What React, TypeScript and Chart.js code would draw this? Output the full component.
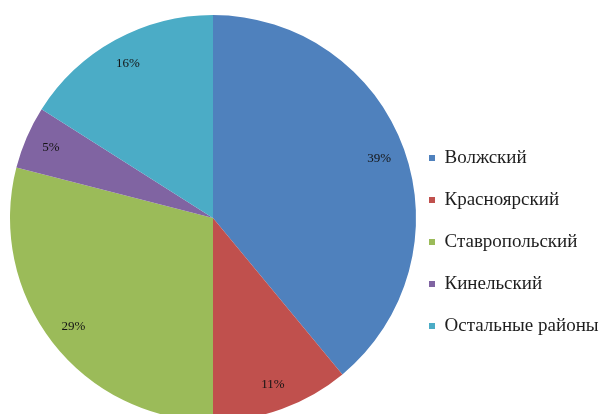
import React, { useEffect, useRef } from "react";
import { Chart, registerables } from "chart.js";

Chart.register(...registerables);

// ---- data ----
const categories = ["Волжский", "Красноярский", "Ставропольский", "Кинельский", "Остальные районы"];
const shares = [39, 11, 29, 5, 16];
const colors = ["#4F81BD", "#C0504D", "#9BBB59", "#8064A2", "#4BACC6"];

// ---- layout constants ----
const CANVAS_W = 608;
const CANVAS_H = 414;
const PIE_RADIUS = 203;
const LEGEND_FONT = 19;
const LEGEND_GAP = 23;
const LEGEND_LEFT = 406;
const LABEL_RADIUS = 0.87;

const sliceLabels = {
  id: "sliceLabels",
  afterDatasetsDraw(chart: any) {
    const { ctx } = chart;
    const meta = chart.getDatasetMeta(0);
    ctx.save();
    ctx.font = '13px "Liberation Serif"';
    ctx.fillStyle = "#141414";
    ctx.textAlign = "center";
    ctx.textBaseline = "middle";
    meta.data.forEach((arc: any, i: number) => {
      const { x, y, startAngle, endAngle, outerRadius } = arc.getProps(
        ["x", "y", "startAngle", "endAngle", "outerRadius"],
        true
      );
      const a = (startAngle + endAngle) / 2;
      const r = outerRadius * LABEL_RADIUS;
      ctx.fillText(`${shares[i]}%`, x + Math.cos(a) * r, y + Math.sin(a) * r);
    });
    ctx.restore();
  },
};

export default function App() {
  const ref = useRef<HTMLCanvasElement>(null);

  useEffect(() => {
    const canvas = ref.current;
    if (!canvas) return;
    const mctx = canvas.getContext("2d")!;
    mctx.font = `${LEGEND_FONT}px "Liberation Serif"`;
    const maxText = Math.max(...categories.map((c) => mctx.measureText(c).width));
    const legendNatural = maxText + 6 + LEGEND_FONT / 2 + LEGEND_GAP + 10;
    const padRight = Math.max(0, CANVAS_W - LEGEND_LEFT - legendNatural);

    const chart = new Chart(canvas, {
      type: "pie",
      data: {
        labels: categories,
        datasets: [
          {
            data: shares,
            backgroundColor: colors,
            borderWidth: 0,
            radius: PIE_RADIUS,
            clip: false,
          } as any,
        ],
      },
      options: {
        animation: false,
        responsive: false,
        devicePixelRatio: 1,
        events: [],
        layout: { padding: { left: 20, top: 22, bottom: 0, right: padRight } },
        plugins: {
          tooltip: { enabled: false },
          legend: {
            display: true,
            position: "right",
            maxWidth: CANVAS_W - LEGEND_LEFT,
            title: {
              display: true,
              text: "",
              font: { size: 12, lineHeight: 1 },
              padding: { top: 18, bottom: 18 },
            },
            labels: {
              boxWidth: 6,
              boxHeight: 6,
              padding: LEGEND_GAP,
              color: "#1e1e1e",
              font: { family: '"Liberation Serif"', size: LEGEND_FONT },
            },
          },
        },
      },
      plugins: [sliceLabels],
    });
    return () => chart.destroy();
  }, []);

  return (
    <div
      style={{
        position: "absolute",
        left: 0,
        top: 0,
        width: CANVAS_W,
        height: CANVAS_H,
        overflow: "hidden",
        background: "#ffffff",
      }}
    >
      <canvas
        ref={ref}
        width={CANVAS_W}
        height={CANVAS_H}
        style={{ display: "block", width: CANVAS_W, height: CANVAS_H }}
      />
    </div>
  );
}
